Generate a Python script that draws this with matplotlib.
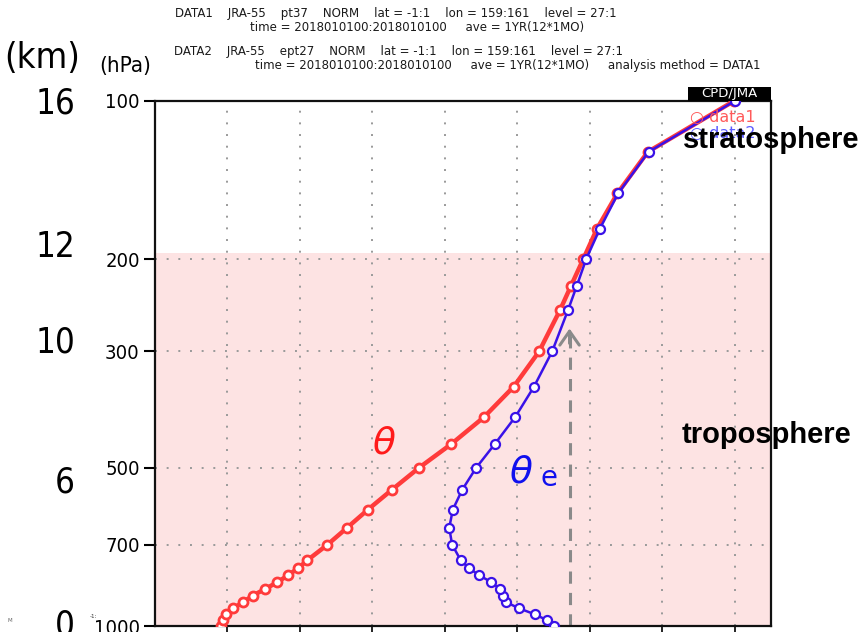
import matplotlib
matplotlib.use("Agg")
import matplotlib.pyplot as plt
import matplotlib.transforms as mtransforms
from matplotlib import font_manager
from matplotlib.patches import Rectangle

# JRA-55 annual mean profiles, lat -1:1, lon 159:161
levels = [1000, 975, 950, 925, 900, 875, 850, 825, 800, 775, 750, 700, 650,
          600, 550, 500, 450, 400, 350, 300, 250, 225, 200, 175, 150, 125, 100]
theta = [299.1, 299.4, 299.8, 300.8, 302.2, 303.5, 305.2, 306.9, 308.4, 309.8,
         311.0, 313.8, 316.5, 319.4, 322.7, 326.4, 330.9, 335.4, 339.5, 343.0,
         345.9, 347.4, 349.1, 351.0, 353.8, 358.0, 369.9]
theta_e = [345.1, 344.1, 342.4, 340.2, 338.4, 338.0, 337.6, 336.4, 334.7, 333.3,
           332.2, 331.0, 330.6, 331.1, 332.4, 334.3, 336.9, 339.7, 342.3, 344.8,
           347.0, 348.2, 349.5, 351.4, 353.9, 358.1, 370.0]

p_ticks = [100, 200, 300, 500, 700, 1000]
p_labels = ["100", "200", "300", "500", "700", "1000"]
x_ticks = [300, 310, 320, 330, 340, 350, 360, 370]

# approximate heights (km) of some pressure levels
km_labels = ["16", "12", "10", "6", "0"]
km_pressures = [101, 190, 289, 534, 1000]

tropopause = 195
lcl_theta = 347.2
lcl_top = 268

# pick a narrow sans if there is one
names = {f.name for f in font_manager.fontManager.ttflist}
if "Liberation Sans Narrow" in names:
    narrow = dict(family="Liberation Sans Narrow")
else:
    narrow = dict(family="DejaVu Sans", stretch="condensed")

W, H = 859, 632


def fx(x):
    return x / W


def fy(y):
    return 1 - y / H


fig = plt.figure(figsize=(W / 100, H / 100), dpi=100)
ax = fig.add_axes([fx(155), fy(626), fx(771) - fx(155), fy(101) - fy(626)])

ax.set_yscale("log")
ax.set_xlim(290, 375)
ax.set_ylim(1000, 100)

# troposphere shading
ax.fill_betweenx([tropopause, 1000], 290, 375, color="#fde3e3", lw=0, zorder=0)

ax.plot(theta, levels, color="#ff3b3b", lw=3.2, marker="o", ms=6.5,
        mfc="white", mec="#ff3b3b", mew=2.0, zorder=3)
ax.plot(theta_e, levels, color="#3a12e8", lw=1.8, marker="o", ms=6.5,
        mfc="white", mec="#3a12e8", mew=1.6, zorder=4)

# dashed line with open arrow head
ax.plot([lcl_theta, lcl_theta], [1000, lcl_top + 8], color="#8a8a8a", lw=2.2,
        ls=(0, (4, 3)), zorder=2)
ax.annotate("", xy=(lcl_theta, lcl_top), xytext=(lcl_theta, lcl_top + 25),
            arrowprops=dict(arrowstyle="->,head_length=1.0,head_width=0.7",
                            color="#8a8a8a", lw=2.2), zorder=2)

ax.set_yticks(p_ticks)
ax.set_yticklabels(p_labels)
ax.yaxis.set_minor_locator(matplotlib.ticker.NullLocator())
ax.set_xticks(x_ticks)
ax.tick_params(axis="y", direction="out", length=8, width=1.5, pad=3,
               labelsize=14.5)
ax.tick_params(axis="x", direction="out", length=6, width=1.2,
               labelbottom=False)
for lab in ax.get_yticklabels():
    lab.set(**narrow)

ax.grid(True, color="#999999", ls=(0, (1, 5)), lw=1.4)
for s in ax.spines.values():
    s.set_linewidth(1.6)
    s.set_color("#111111")

ax.text(321.5, 450, "θ", color="#ff1a1a", fontsize=27, style="italic",
        ha="center", va="center")
ax.text(340.5, 511, "θ", color="#1010ee", fontsize=27, style="italic",
        ha="center", va="center")
ax.text(344.4, 522, "e", color="#1010ee", fontsize=20, ha="center",
        va="center")

# km labels on the far left
trans = mtransforms.blended_transform_factory(fig.transFigure, ax.transData)
for lab, p in zip(km_labels, km_pressures):
    fig.text(fx(75), p, lab, transform=trans, ha="right", va="center",
             fontsize=25, **narrow)

fig.text(fx(42), fy(58), "(km)", ha="center", va="center", fontsize=26,
         **narrow)

# header lines
hdr = dict(fontsize=8.5, family="DejaVu Sans", color="#1a1a1a", va="center",
           ha="center")
fig.text(fx(396), fy(14),
         "DATA1    JRA-55    pt37    NORM    lat = -1:1    lon = 159:161    level = 27:1",
         **hdr)
fig.text(fx(417), fy(27),
         "time = 2018010100:2018010100     ave = 1YR(12*1MO)", **hdr)
fig.text(fx(398), fy(52),
         "DATA2    JRA-55    ept27    NORM    lat = -1:1    lon = 159:161    level = 27:1",
         **hdr)
fig.text(fx(508), fy(65),
         "time = 2018010100:2018010100     ave = 1YR(12*1MO)     analysis method = DATA1",
         **hdr)
fig.text(fx(125), fy(66), "(hPa)", ha="center", va="center", fontsize=16,
         bbox=dict(facecolor="white", edgecolor="none", pad=0.5), **narrow)

fig.patches.append(Rectangle((fx(688), fy(101)), fx(771) - fx(688),
                             fy(87) - fy(101), transform=fig.transFigure,
                             facecolor="black", edgecolor="none"))
fig.text(fx(729.5), fy(94), "CPD/JMA", ha="center", va="center", fontsize=9.5,
         color="white")

fig.text(fx(690), fy(118), "○ data1", color="#ff5a5a", fontsize=11.5,
         va="center")
fig.text(fx(690), fy(133), "○ data2", color="#5a5aff", fontsize=11.5,
         va="center")

fig.text(fx(683), fy(140), "stratosphere", fontsize=21, weight="bold",
         family="Liberation Sans", va="center")
fig.text(fx(682), fy(435), "troposphere", fontsize=21, weight="bold",
         family="Liberation Sans", va="center")

fig.text(fx(8), fy(620), "M", fontsize=4, color="#666666", va="center")
fig.text(fx(90), fy(616), "-1:", fontsize=4, color="#333333", va="center")

fig.savefig("out.png", dpi=100)
